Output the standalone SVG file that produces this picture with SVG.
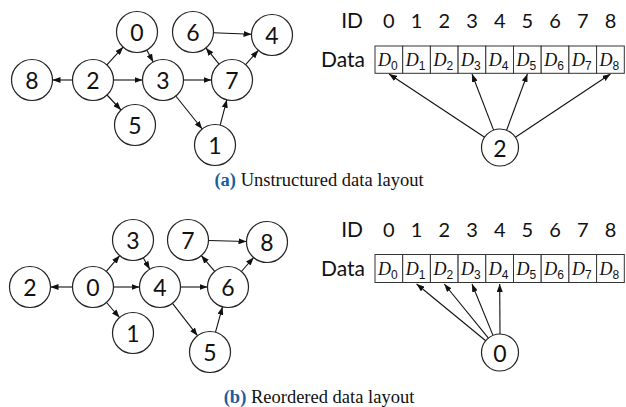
<svg xmlns="http://www.w3.org/2000/svg" width="626" height="407" viewBox="0 0 626 407">
<style>
.n{fill:#fff;stroke:#222;stroke-width:1.2}
.nl{font-family:Lato,"Liberation Sans",sans-serif;font-size:23px;fill:#111;text-anchor:middle;dominant-baseline:central}
.e{stroke:#111;stroke-width:1.1;fill:none;marker-end:url(#ah)}
.lab{font-family:Lato,"Liberation Sans",sans-serif;font-size:21px;fill:#111;text-anchor:end}
.id{font-family:Lato,"Liberation Sans",sans-serif;font-size:20px;fill:#111;text-anchor:middle}
.cell{fill:#fff;stroke:#333;stroke-width:1}
.d{font-family:"Liberation Serif",serif;font-style:italic;font-size:18px;fill:#111}
.sub{font-family:"Liberation Sans",sans-serif;font-style:normal;font-size:12px}
.cap{font-family:"Liberation Serif",serif;font-size:18.5px;fill:#111;text-anchor:middle}
.capb{font-weight:bold;fill:#1b5e9b}
</style>
<defs>
<marker id="ah" markerWidth="8" markerHeight="6" refX="8" refY="3" orient="auto" markerUnits="userSpaceOnUse">
<path d="M0,0 L8,3 L0,6 z" fill="#111"/>
</marker>
</defs>

<!-- Top graph connectors -->
<g id="edges-a">
<line class="e" x1="72.5" y1="80" x2="52.5" y2="80"/>
<line class="e" x1="106.9" y1="64.9" x2="123.1" y2="47.1"/>
<line class="e" x1="113.5" y1="80" x2="142.5" y2="80"/>
<line class="e" x1="107" y1="95" x2="121" y2="110"/>
<line class="e" x1="146.8" y1="50" x2="153.2" y2="62"/>
<line class="e" x1="183.5" y1="80" x2="211.5" y2="80"/>
<line class="e" x1="175.8" y1="96" x2="202.2" y2="129"/>
<line class="e" x1="220.2" y1="125.2" x2="226.8" y2="99.8"/>
<line class="e" x1="219.1" y1="64.1" x2="205.9" y2="47.9"/>
<line class="e" x1="245.6" y1="64.7" x2="258.4" y2="50.3"/>
<line class="e" x1="213.5" y1="32.8" x2="251.5" y2="34.2"/>
</g>
<g id="a-node-0"><circle class="n" cx="137" cy="32" r="20.5"/><text class="nl" x="137" y="32">0</text></g>
<g id="a-node-6"><circle class="n" cx="193" cy="32" r="20.5"/><text class="nl" x="193" y="32">6</text></g>
<g id="a-node-4"><circle class="n" cx="272" cy="35" r="20.5"/><text class="nl" x="272" y="35">4</text></g>
<g id="a-node-8"><circle class="n" cx="32" cy="80" r="20.5"/><text class="nl" x="32" y="80">8</text></g>
<g id="a-node-2"><circle class="n" cx="93" cy="80" r="20.5"/><text class="nl" x="93" y="80">2</text></g>
<g id="a-node-3"><circle class="n" cx="163" cy="80" r="20.5"/><text class="nl" x="163" y="80">3</text></g>
<g id="a-node-7"><circle class="n" cx="232" cy="80" r="20.5"/><text class="nl" x="232" y="80">7</text></g>
<g id="a-node-5"><circle class="n" cx="135" cy="125" r="20.5"/><text class="nl" x="135" y="125">5</text></g>
<g id="a-node-1"><circle class="n" cx="215" cy="145" r="20.5"/><text class="nl" x="215" y="145">1</text></g>

<!-- Top array -->
<g id="a-array">
<text class="lab" x="363" y="28">ID</text>
<text class="lab" x="365" y="67">Data</text>
<g class="id">
<text x="388.9" y="28">0</text><text x="416.6" y="28">1</text><text x="444.3" y="28">2</text><text x="472" y="28">3</text><text x="499.7" y="28">4</text><text x="527.4" y="28">5</text><text x="555" y="28">6</text><text x="582.8" y="28">7</text><text x="610.5" y="28">8</text>
</g>
<rect class="cell" x="375" y="46" width="27.7" height="27.3"/>
<rect class="cell" x="402.7" y="46" width="27.7" height="27.3"/>
<rect class="cell" x="430.4" y="46" width="27.7" height="27.3"/>
<rect class="cell" x="458.1" y="46" width="27.7" height="27.3"/>
<rect class="cell" x="485.8" y="46" width="27.7" height="27.3"/>
<rect class="cell" x="513.5" y="46" width="27.7" height="27.3"/>
<rect class="cell" x="541.2" y="46" width="27.7" height="27.3"/>
<rect class="cell" x="568.9" y="46" width="27.7" height="27.3"/>
<rect class="cell" x="596.6" y="46" width="27.7" height="27.3"/>
<g class="d">
<text x="378" y="65.5">D<tspan class="sub" dy="4">0</tspan></text>
<text x="405.7" y="65.5">D<tspan class="sub" dy="4">1</tspan></text>
<text x="433.4" y="65.5">D<tspan class="sub" dy="4">2</tspan></text>
<text x="461.1" y="65.5">D<tspan class="sub" dy="4">3</tspan></text>
<text x="488.8" y="65.5">D<tspan class="sub" dy="4">4</tspan></text>
<text x="516.5" y="65.5">D<tspan class="sub" dy="4">5</tspan></text>
<text x="544.2" y="65.5">D<tspan class="sub" dy="4">6</tspan></text>
<text x="571.9" y="65.5">D<tspan class="sub" dy="4">7</tspan></text>
<text x="599.6" y="65.5">D<tspan class="sub" dy="4">8</tspan></text>
</g>
</g>
<g id="a-ptr-edges">
<line class="e" x1="484.6" y1="137.2" x2="389" y2="74"/>
<line class="e" x1="493.6" y1="130.1" x2="472" y2="74"/>
<line class="e" x1="506.6" y1="130.2" x2="527.4" y2="74"/>
<line class="e" x1="515.4" y1="137.2" x2="610.5" y2="74"/>
</g>
<g id="a-ptr-node-2"><circle class="n" cx="500" cy="147.5" r="18.5"/><text class="nl" x="500" y="147.5">2</text></g>
<text class="cap" x="319" y="186"><tspan class="capb">(a)</tspan> Unstructured data layout</text>

<!-- Bottom graph connectors -->
<g id="edges-b">
<line class="e" x1="72.5" y1="287" x2="50.5" y2="287"/>
<line class="e" x1="106.3" y1="271.4" x2="119.7" y2="255.6"/>
<line class="e" x1="113.5" y1="287" x2="139.5" y2="287"/>
<line class="e" x1="106.5" y1="302.5" x2="119.5" y2="317.5"/>
<line class="e" x1="143.2" y1="257.8" x2="149.8" y2="269.2"/>
<line class="e" x1="180.5" y1="287" x2="207.5" y2="287"/>
<line class="e" x1="172.5" y1="303.3" x2="197.5" y2="335.7"/>
<line class="e" x1="215.5" y1="332.2" x2="222.5" y2="306.8"/>
<line class="e" x1="214.7" y1="271.4" x2="201.3" y2="255.6"/>
<line class="e" x1="241.4" y1="271.5" x2="253.6" y2="257.5"/>
<line class="e" x1="208.5" y1="240.5" x2="246.5" y2="241.5"/>
</g>
<g id="b-node-3"><circle class="n" cx="133" cy="240" r="20.5"/><text class="nl" x="133" y="240">3</text></g>
<g id="b-node-7"><circle class="n" cx="188" cy="240" r="20.5"/><text class="nl" x="188" y="240">7</text></g>
<g id="b-node-8"><circle class="n" cx="267" cy="242" r="20.5"/><text class="nl" x="267" y="242">8</text></g>
<g id="b-node-2"><circle class="n" cx="30" cy="287" r="20.5"/><text class="nl" x="30" y="287">2</text></g>
<g id="b-node-0"><circle class="n" cx="93" cy="287" r="20.5"/><text class="nl" x="93" y="287">0</text></g>
<g id="b-node-4"><circle class="n" cx="160" cy="287" r="20.5"/><text class="nl" x="160" y="287">4</text></g>
<g id="b-node-6"><circle class="n" cx="228" cy="287" r="20.5"/><text class="nl" x="228" y="287">6</text></g>
<g id="b-node-1"><circle class="n" cx="133" cy="333" r="20.5"/><text class="nl" x="133" y="333">1</text></g>
<g id="b-node-5"><circle class="n" cx="210" cy="352" r="20.5"/><text class="nl" x="210" y="352">5</text></g>

<!-- Bottom array -->
<g id="b-array">
<text class="lab" x="363" y="237">ID</text>
<text class="lab" x="365" y="276">Data</text>
<g class="id">
<text x="388.9" y="237">0</text><text x="416.6" y="237">1</text><text x="444.3" y="237">2</text><text x="472" y="237">3</text><text x="499.7" y="237">4</text><text x="527.4" y="237">5</text><text x="555" y="237">6</text><text x="582.8" y="237">7</text><text x="610.5" y="237">8</text>
</g>
<rect class="cell" x="375" y="254.5" width="27.7" height="28"/>
<rect class="cell" x="402.7" y="254.5" width="27.7" height="28"/>
<rect class="cell" x="430.4" y="254.5" width="27.7" height="28"/>
<rect class="cell" x="458.1" y="254.5" width="27.7" height="28"/>
<rect class="cell" x="485.8" y="254.5" width="27.7" height="28"/>
<rect class="cell" x="513.5" y="254.5" width="27.7" height="28"/>
<rect class="cell" x="541.2" y="254.5" width="27.7" height="28"/>
<rect class="cell" x="568.9" y="254.5" width="27.7" height="28"/>
<rect class="cell" x="596.6" y="254.5" width="27.7" height="28"/>
<g class="d">
<text x="378" y="274.5">D<tspan class="sub" dy="4">0</tspan></text>
<text x="405.7" y="274.5">D<tspan class="sub" dy="4">1</tspan></text>
<text x="433.4" y="274.5">D<tspan class="sub" dy="4">2</tspan></text>
<text x="461.1" y="274.5">D<tspan class="sub" dy="4">3</tspan></text>
<text x="488.8" y="274.5">D<tspan class="sub" dy="4">4</tspan></text>
<text x="516.5" y="274.5">D<tspan class="sub" dy="4">5</tspan></text>
<text x="544.2" y="274.5">D<tspan class="sub" dy="4">6</tspan></text>
<text x="571.9" y="274.5">D<tspan class="sub" dy="4">7</tspan></text>
<text x="599.6" y="274.5">D<tspan class="sub" dy="4">8</tspan></text>
</g>
</g>
<g id="b-ptr-edges">
<line class="e" x1="485.7" y1="340.7" x2="416.6" y2="284"/>
<line class="e" x1="488.4" y1="338.1" x2="444.3" y2="284"/>
<line class="e" x1="493" y1="335.4" x2="472" y2="284"/>
<line class="e" x1="500" y1="334" x2="499.7" y2="284"/>
</g>
<g id="b-ptr-node-0"><circle class="n" cx="500" cy="352.5" r="18.5"/><text class="nl" x="500" y="352.5">0</text></g>
<text class="cap" x="319" y="403"><tspan class="capb">(b)</tspan> Reordered data layout</text>
</svg>
